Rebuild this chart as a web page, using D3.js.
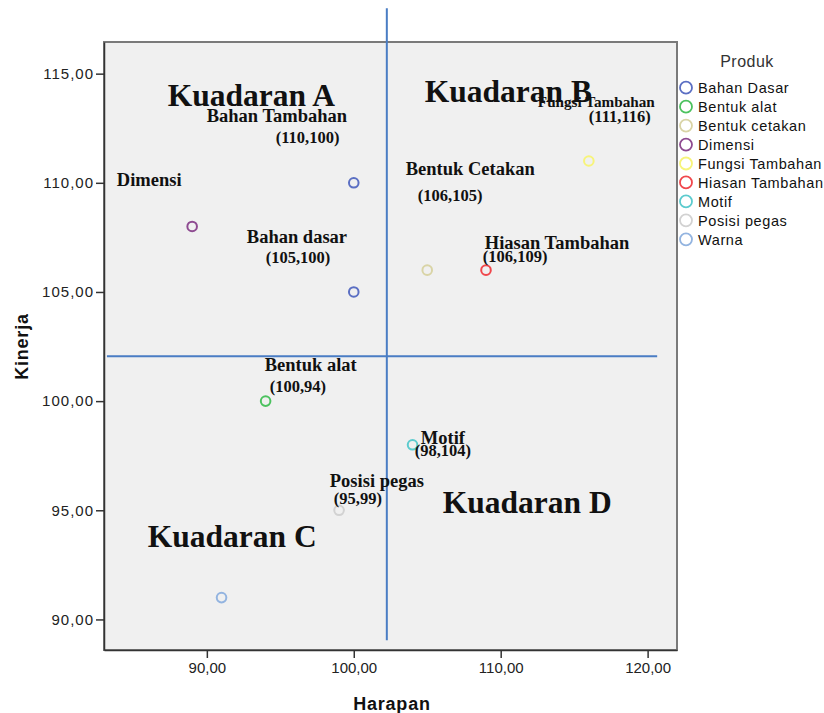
<!DOCTYPE html>
<html>
<head>
<meta charset="utf-8">
<script src="https://cdn.jsdelivr.net/npm/d3@7"></script>
<style>
  body { margin: 0; background: #fff; }
  svg text { font-family: "Liberation Sans", Arial, sans-serif; }
  .note { font-family: "Liberation Serif", "Times New Roman", serif; font-weight: bold; fill: #111; }
</style>
</head>
<body>
<div id="chart"></div>
<script>
// products in legend order
const products = ["Bahan Dasar", "Bentuk alat", "Bentuk cetakan", "Dimensi", "Fungsi Tambahan",
  "Hiasan Tambahan", "Motif", "Posisi pegas", "Warna"];
const colors = ["#5b6fc3", "#4cc25f", "#d9d4a6", "#8e4b91", "#f7f47a",
  "#f0474c", "#5ccbce", "#d2d2d2", "#93b4e0"];

// points: Harapan (x) and Kinerja (y)
const pointProduct = ["Bahan Dasar", "Bahan Dasar", "Bentuk alat", "Bentuk cetakan", "Dimensi",
  "Fungsi Tambahan", "Hiasan Tambahan", "Motif", "Posisi pegas", "Warna"];
const harapan = [100, 100, 94, 105, 89, 116, 109, 104, 99, 91];
const kinerja = [110, 105, 100, 106, 108, 111, 106, 98, 95, 91];

const xTicks = [90, 100, 110, 120];
const yTicks = [90, 95, 100, 105, 110, 115];

// quadrant divider lines (mean of harapan / kinerja)
const meanX = 102.25;
const meanY = 102.05;

const width = 824, height = 713;
const margin = { left: 104, right: 147, top: 42, bottom: 63 };

const svg = d3.select("#chart").append("svg")
  .attr("width", width)
  .attr("height", height);

const x = d3.scaleLinear().domain([83, 122]).range([margin.left, width - margin.right]);
const y = d3.scaleLinear().domain([88.6, 116.45]).range([height - margin.bottom, margin.top]);

const fmt = d => d3.format(".2f")(d).replace(".", ",");

// plot background
svg.append("rect")
  .attr("x", margin.left)
  .attr("y", margin.top)
  .attr("width", width - margin.left - margin.right)
  .attr("height", height - margin.top - margin.bottom)
  .attr("fill", "#f0f0f0")
  .attr("stroke", "#7a7a7a")
  .attr("stroke-width", 2);

const xAxis = svg.append("g")
  .attr("transform", `translate(0,${height - margin.bottom})`)
  .call(d3.axisBottom(x).tickValues(xTicks).tickSize(8).tickSizeOuter(0).tickPadding(4).tickFormat(fmt));
const yAxis = svg.append("g")
  .attr("transform", `translate(${margin.left},0)`)
  .call(d3.axisLeft(y).tickValues(yTicks).tickSize(8).tickSizeOuter(0).tickPadding(2).tickFormat(fmt));

[xAxis, yAxis].forEach(g => {
  g.select(".domain").attr("stroke", "#333").attr("stroke-width", 1.5);
  g.selectAll(".tick line").attr("stroke", "#333").attr("stroke-width", 1.5);
  g.selectAll(".tick text")
    .attr("fill", "#222")
    .style("font-size", "15px")
    .style("font-family", "'Liberation Sans', Arial, sans-serif");
});
yAxis.selectAll(".tick text").style("letter-spacing", "1px");

// axis titles
svg.append("text")
  .attr("x", x(102.6))
  .attr("y", 710)
  .attr("text-anchor", "middle")
  .style("font-size", "18px")
  .style("font-weight", "bold")
  .style("letter-spacing", "0.8px")
  .attr("fill", "#111")
  .text("Harapan");
svg.append("text")
  .attr("transform", `translate(28,${y(102.5)}) rotate(-90)`)
  .attr("text-anchor", "middle")
  .style("font-size", "18px")
  .style("font-weight", "bold")
  .style("letter-spacing", "0.8px")
  .attr("fill", "#111")
  .text("Kinerja");

// quadrant lines
svg.append("line")
  .attr("x1", x(meanX)).attr("x2", x(meanX))
  .attr("y1", y(118)).attr("y2", y(89.05))
  .attr("stroke", "#4a7dc4").attr("stroke-width", 2);
svg.append("line")
  .attr("x1", x(83.2)).attr("x2", x(120.65))
  .attr("y1", y(meanY)).attr("y2", y(meanY))
  .attr("stroke", "#4a7dc4").attr("stroke-width", 2);

// points
const color = d3.scaleOrdinal().domain(products).range(colors);
svg.append("g")
  .selectAll("circle")
  .data(harapan)
  .join("circle")
  .attr("cx", (d) => x(d))
  .attr("cy", (d, i) => y(kinerja[i]))
  .attr("r", 4.8)
  .attr("fill", "none")
  .attr("stroke", (d, i) => color(pointProduct[i]))
  .attr("stroke-width", 2);

// text annotations (data-space anchors)
const notes = [
  { t: "Kuadaran A", x: 87.34, y: 113.51, s: 31.5 },
  { t: "Kuadaran B", x: 104.83, y: 113.70, s: 31.5 },
  { t: "Kuadaran C", x: 85.98, y: 93.31, s: 31.5 },
  { t: "Kuadaran D", x: 106.06, y: 94.87, s: 31.5 },
  { t: "Bahan Tambahan", x: 89.99, y: 112.78, s: 18.5 },
  { t: "(110,100)", x: 94.69, y: 111.82, s: 16.5 },
  { t: "Dimensi", x: 83.87, y: 109.85, s: 18.5 },
  { t: "Bahan dasar", x: 92.72, y: 107.24, s: 18.5 },
  { t: "(105,100)", x: 94.01, y: 106.32, s: 16.5 },
  { t: "Bentuk Cetakan", x: 103.54, y: 110.35, s: 18.5 },
  { t: "(106,105)", x: 104.36, y: 109.16, s: 16.5 },
  { t: "Hiasan Tambahan", x: 108.92, y: 106.96, s: 18.5 },
  { t: "(106,109)", x: 108.78, y: 106.37, s: 16.5 },
  { t: "Fungsi Tambahan", x: 112.53, y: 113.47, s: 15.2 },
  { t: "(111,116)", x: 116.0, y: 112.78, s: 16.5 },
  { t: "Bentuk alat", x: 93.94, y: 101.37, s: 18.5 },
  { t: "(100,94)", x: 94.28, y: 100.41, s: 16.5 },
  { t: "Motif", x: 104.56, y: 98.03, s: 18.5 },
  { t: "(98,104)", x: 104.15, y: 97.48, s: 16.5 },
  { t: "Posisi pegas", x: 98.37, y: 96.06, s: 18.5 },
  { t: "(95,99)", x: 98.64, y: 95.28, s: 16.5 }
];
svg.append("g")
  .selectAll("text")
  .data(notes)
  .join("text")
  .attr("class", "note")
  .attr("x", (d) => x(d.x))
  .attr("y", (d) => y(d.y))
  .style("font-size", (d) => d.s + "px")
  .text((d) => d.t);

// legend
const legend = svg.append("g").attr("transform", "translate(686,0)");
legend.append("text")
  .attr("x", 61)
  .attr("y", 67)
  .attr("text-anchor", "middle")
  .style("font-size", "16px")
  .style("letter-spacing", "0.5px")
  .attr("fill", "#333")
  .text("Produk");
const items = legend.selectAll(".item")
  .data(products)
  .join("g")
  .attr("class", "item")
  .attr("transform", (d, i) => `translate(0,${87.7 + i * 18.95})`);
items.append("circle")
  .attr("r", 6)
  .attr("fill", "none")
  .attr("stroke", (d) => color(d))
  .attr("stroke-width", 1.8);
items.append("text")
  .attr("x", 12)
  .attr("y", 5.5)
  .style("font-size", "14.5px")
  .style("letter-spacing", "0.6px")
  .attr("fill", "#111")
  .text((d) => d);
</script>
</body>
</html>
